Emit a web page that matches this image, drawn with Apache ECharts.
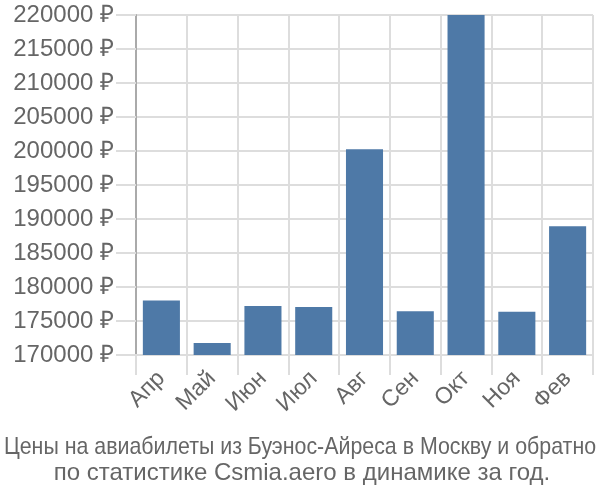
<!DOCTYPE html>
<html><head><meta charset="utf-8">
<script src="https://cdn.jsdelivr.net/npm/echarts@6/dist/echarts.min.js"></script>
<style>html,body{margin:0;padding:0;background:#fff}#c{width:600px;height:500px}</style>
</head><body><div id="c"></div>
<script>
const categories = ['Апр','Май','Июн','Июл','Авг','Сен','Окт','Ноя','Фев'];
const prices = [178000, 171750, 177200, 177050, 200250, 176450, 220000, 176350, 188950];
const yMin = 170000, yMax = 220000, yStep = 5000;
const titleLines = ['Цены на авиабилеты из Буэнос-Айреса в Москву и обратно','по статистике Csmia.aero в динамике за год.'];

const font = 'Liberation Sans, Arial, sans-serif';
const chart = echarts.init(document.getElementById('c'), null, {renderer:'canvas'});
chart.setOption({
  animation: false,
  graphic: [
    {type: 'text', x: 300, y: 447, scaleX: 0.89,
     style: {text: titleLines[0], font: '24px Liberation Sans, Arial, sans-serif', fill: '#666', textAlign: 'center', textVerticalAlign: 'middle'}},
    {type: 'text', x: 302, y: 473,
     style: {text: titleLines[1], font: '24px Liberation Sans, Arial, sans-serif', fill: '#666', textAlign: 'center', textVerticalAlign: 'middle'}}
  ],
  grid: {left: 136, right: 7, top: 15, bottom: 145, containLabel: false},
  xAxis: {
    type: 'category', data: categories, boundaryGap: true,
    axisLine: {show: true, lineStyle: {color: '#ddd', width: 2}},
    axisTick: {show: true, length: 20, alignWithLabel: false, lineStyle: {color: '#ddd', width: 2}},
    splitLine: {show: true, lineStyle: {color: '#ddd', width: 2}},
    axisLabel: {rotate: 45, margin: 20, fontFamily: font, fontSize: 23, color: '#666', interval: 0}
  },
  yAxis: {
    type: 'value', min: yMin, max: yMax, interval: yStep,
    axisLine: {show: true, lineStyle: {color: '#aaa', width: 2}},
    axisTick: {show: true, length: 20, lineStyle: {color: '#ddd', width: 2}},
    splitLine: {show: true, lineStyle: {color: '#ddd', width: 2}},
    axisLabel: {margin: 22, fontFamily: font, fontSize: 24, color: '#666', formatter: v => v + ' ₽'}
  },
  series: [{
    type: 'bar', data: prices, barCategoryGap: '27%',
    itemStyle: {color: '#4e79a7'}
  }]
});
</script></body></html>
